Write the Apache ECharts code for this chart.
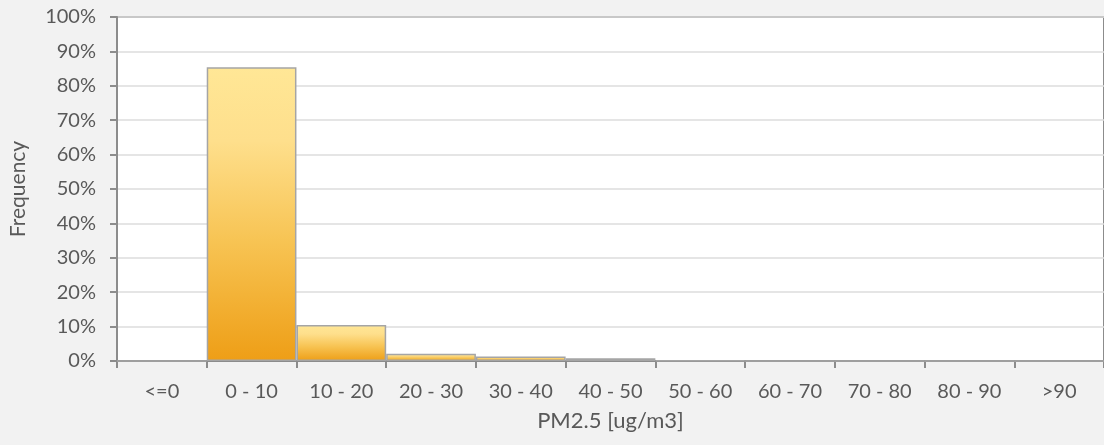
<!DOCTYPE html>
<html><head><meta charset="utf-8">
<script src="https://cdn.jsdelivr.net/npm/echarts@6/dist/echarts.min.js"></script>
<style>html,body{margin:0;padding:0;background:#f2f2f2}#c{width:1104px;height:445px}</style>
</head><body><div id="c"></div>
<script>
const categories = ['<=0','0 - 10','10 - 20','20 - 30','30 - 40','40 - 50','50 - 60','60 - 70','70 - 80','80 - 90','>90'];
const frequency = [0, 85.4, 10.5, 2.1, 1.3, 0.8, 0.2, 0, 0, 0, 0];
const yTicks = [0,10,20,30,40,50,60,70,80,90,100];
const font = 'Lato, "Open Sans", sans-serif';
const chart = echarts.init(document.getElementById('c'), null, {renderer:'canvas'});
chart.setOption({
  backgroundColor: '#f2f2f2',
  animation: false,
  grid: { left: 115, right: -3, top: 17, bottom: 84, show: true, backgroundColor: '#ffffff', borderColor: '#8c8c8c', borderWidth: 2 },
  xAxis: {
    type: 'category', data: categories,
    name: 'PM2.5 [ug/m3]', nameLocation: 'middle', nameGap: 49,
    nameTextStyle: { color: '#595959', fontSize: 22, fontFamily: font },
    axisLine: { lineStyle: { color: '#8c8c8c', width: 2 } },
    axisTick: { show: true, length: 7, alignWithLabel: false, lineStyle: { color: '#8c8c8c', width: 2 } },
    axisLabel: { color: '#595959', fontSize: 20, fontFamily: font, margin: 21, interval: 0 }
  },
  yAxis: {
    type: 'value', min: 0, max: 100, interval: 10,
    name: 'Frequency', nameLocation: 'middle', nameGap: 88, nameRotate: 90,
    nameTextStyle: { color: '#595959', fontSize: 21, fontFamily: font },
    axisLine: { show: true, lineStyle: { color: '#8c8c8c', width: 2 } },
    axisTick: { show: true, length: 7, inside: false, lineStyle: { color: '#8c8c8c', width: 2 } },
    splitLine: { lineStyle: { color: '#dcdcdc', width: 1.5 } },
    axisLabel: { color: '#595959', fontSize: 20, fontFamily: font, margin: 21,
      formatter: v => yTicks.includes(v) ? v + '%' : '' }
  },
  series: [{
    type: 'bar', data: frequency, barCategoryGap: '0%',
    itemStyle: {
      borderColor: '#a5a5a5', borderWidth: 1.5,
      color: new echarts.graphic.LinearGradient(0, 0, 0, 1, [
        { offset: 0, color: '#FFE796' },
        { offset: 0.25, color: '#FEDF8C' },
        { offset: 0.6, color: '#F7C352' },
        { offset: 1, color: '#EE9E16' }
      ])
    }
  }]
});
</script></body></html>
